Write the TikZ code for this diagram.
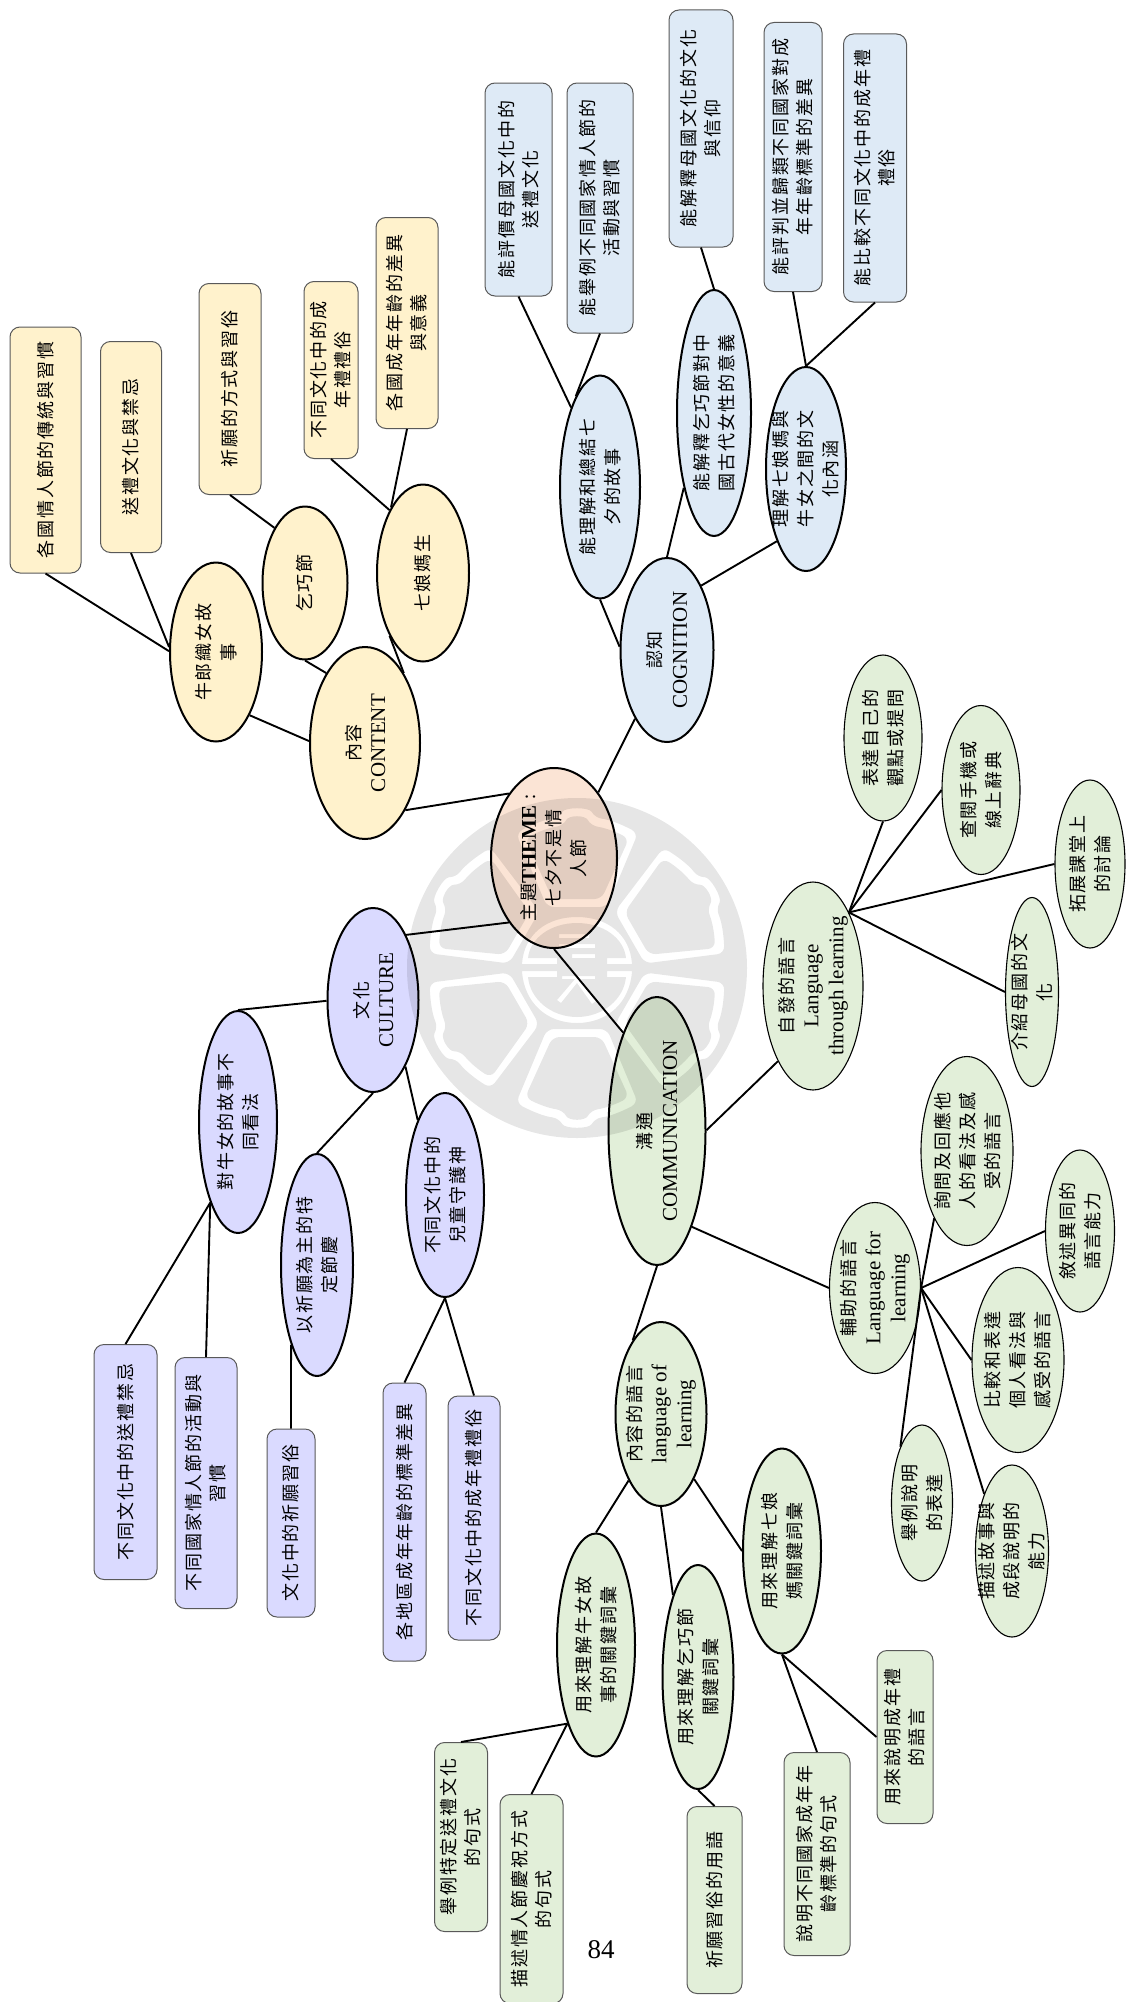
\documentclass[tikz,border=0pt]{standalone}
\usepackage{fontspec}
\setmainfont{Liberation Serif}
\newfontfamily\cjk[LetterSpace=11]{Noto Sans CJK TC}
\usetikzlibrary{shapes.geometric}
\definecolor{themefill}{HTML}{FBE4D5}
\definecolor{contentfill}{HTML}{FFF2CC}
\definecolor{cognitionfill}{HTML}{DEEAF6}
\definecolor{culturefill}{HTML}{DADAFF}
\definecolor{commfill}{HTML}{E2EFD9}

\begin{document}
\begin{tikzpicture}[x=1pt, y=-1pt,
    oval/.style={draw, ellipse, fill=#1, rotate=90, align=center, inner sep=-16pt, line width=2pt,
      font=\cjk\fontsize{18}{25}\selectfont},
    thinoval/.style={oval=#1, line width=1.1pt},
    leaf/.style={draw=black!65, rectangle, rounded corners=10pt, fill=#1, rotate=90, align=center,
      inner sep=0pt, line width=1pt, font=\cjk\fontsize{18}{24}\selectfont},
    link/.style={line width=1.9pt},
    markfill/.style={fill=black, fill opacity=0.098, even odd rule}]
  \useasboundingbox (0,0) rectangle (1125,2002);

  % Nodes
  \node[oval=themefill, minimum width=180pt, minimum height=126pt] (theme) at (554,858) {主題{\rmfamily\bfseries\fontsize{21}{25}\selectfont THEME} :\\七夕不是情\\人節};

  \node[oval=contentfill, minimum width=192pt, minimum height=110pt] (content) at (365,743) {內容\\{\rmfamily\fontsize{21}{26}\selectfont CONTENT}};
  \node[oval=contentfill, minimum width=179pt, minimum height=92pt] (niulang) at (216,652) {牛郎織女故\\事};
  \node[oval=contentfill, minimum width=153pt, minimum height=85pt] (qiqiao) at (305,583) {乞巧節};
  \node[oval=contentfill, minimum width=177pt, minimum height=92pt] (qiniang) at (423,573) {七娘媽生};
  \node[leaf=contentfill, minimum width=246pt, minimum height=71pt] (b1) at (45.5,450) {各國情人節的傳統與習慣};
  \node[leaf=contentfill, minimum width=211pt, minimum height=61pt] (b2) at (131,447) {送禮文化與禁忌};
  \node[leaf=contentfill, minimum width=211pt, minimum height=62pt] (b3) at (230,389) {祈願的方式與習俗};
  \node[leaf=contentfill, minimum width=177pt, minimum height=54pt] (b4) at (331,370) {不同文化中的成\\年禮禮俗};
  \node[leaf=contentfill, minimum width=211pt, minimum height=62pt] (b5) at (407,323) {各國成年年齡的差異\\與意義};

  \node[oval=cognitionfill, minimum width=184pt, minimum height=93pt] (cognition) at (667,650) {認知\\{\rmfamily\fontsize{21}{26}\selectfont COGNITION}};
  \node[oval=cognitionfill, minimum width=223pt, minimum height=80pt] (c1) at (600,487) {能理解和總結七\\夕的故事};
  \node[oval=cognitionfill, minimum width=246pt, minimum height=74pt] (c2) at (714,413) {能解釋乞巧節對中\\國古代女性的意義};
  \node[oval=cognitionfill, minimum width=204pt, minimum height=80pt] (c3) at (806,469) {理解七娘媽與\\牛女之間的文\\化內涵};
  \node[leaf=cognitionfill, minimum width=213pt, minimum height=67pt] (d1) at (518.5,189.5) {能評價母國文化中的\\送禮文化};
  \node[leaf=cognitionfill, minimum width=250pt, minimum height=66pt] (d2) at (600,208) {能舉例不同國家情人節的\\活動與習慣};
  \node[leaf=cognitionfill, minimum width=237pt, minimum height=64pt] (d3) at (701,128.5) {能解釋母國文化的文化\\與信仰};
  \node[leaf=cognitionfill, minimum width=269pt, minimum height=58pt] (d4) at (793,157) {能評判並歸類不同國家對成\\年年齡標準的差異};
  \node[leaf=cognitionfill, minimum width=268pt, minimum height=63pt] (d5) at (875,168) {能比較不同文化中的成年禮\\禮俗};

  \node[oval=culturefill, minimum width=184pt, minimum height=91pt] (culture) at (373,1000) {文化\\{\rmfamily\fontsize{21}{26}\selectfont CULTURE}};
  \node[oval=culturefill, minimum width=222pt, minimum height=78pt] (e1) at (238,1122) {對牛女的故事不\\同看法};
  \node[oval=culturefill, minimum width=222pt, minimum height=72pt] (e2) at (317,1265) {以祈願為主的特\\定節慶};
  \node[oval=culturefill, minimum width=204pt, minimum height=78pt] (e3) at (445,1195) {不同文化中的\\兒童守護神};
  \node[leaf=culturefill, minimum width=235pt, minimum height=63pt] (f1) at (125.5,1462) {不同文化中的送禮禁忌};
  \node[leaf=culturefill, minimum width=251pt, minimum height=62pt] (f2) at (206,1483) {不同國家情人節的活動與\\習慣};
  \node[leaf=culturefill, minimum width=188pt, minimum height=48pt] (f3) at (291,1523) {文化中的祈願習俗};
  \node[leaf=culturefill, minimum width=278pt, minimum height=43pt] (f4) at (404.5,1522) {各地區成年年齡的標準差異};
  \node[leaf=culturefill, minimum width=244pt, minimum height=52pt] (f5) at (474,1518) {不同文化中的成年禮禮俗};

  \node[oval=commfill, minimum width=268pt, minimum height=97pt] (comm) at (657,1131) {溝通\\{\rmfamily\fontsize{21}{26}\selectfont COMMUNICATION}};
  \node[oval=commfill, minimum width=184pt, minimum height=91pt] (lang) at (661,1414) {內容的語言\\{\rmfamily\fontsize{21}{26}\selectfont language of}\\{\rmfamily\fontsize{21}{26}\selectfont learning}};
  \node[oval=commfill, minimum width=223pt, minimum height=78pt] (g1) at (596,1645) {用來理解牛女故\\事的關鍵詞彙};
  \node[oval=commfill, minimum width=224pt, minimum height=71pt] (g2) at (698,1677) {用來理解乞巧節\\關鍵詞彙};
  \node[oval=commfill, minimum width=205pt, minimum height=78pt] (g3) at (782,1551) {用來理解七娘\\媽關鍵詞彙};
  \node[leaf=commfill, minimum width=189pt, minimum height=53pt] (h1) at (461,1837) {舉例特定送禮文化\\的句式};
  \node[leaf=commfill, minimum width=209pt, minimum height=63pt] (h2) at (531.5,1899) {描述情人節慶祝方式\\的句式};
  \node[leaf=commfill, minimum width=187pt, minimum height=55pt] (h3) at (714.5,1900) {祈願習俗的用語};
  \node[leaf=commfill, minimum width=203pt, minimum height=66pt] (h4) at (817,1854) {說明不同國家成年年\\齡標準的句式};
  \node[leaf=commfill, minimum width=173pt, minimum height=56pt] (h5) at (905,1737) {用來說明成年禮\\的語言};

  \node[thinoval=commfill, minimum width=208pt, minimum height=100pt] (through) at (813,986) {自發的語言\\{\rmfamily\fontsize{21}{26}\selectfont Language}\\{\rmfamily\fontsize{21}{26}\selectfont through learning}};
  \node[thinoval=commfill, minimum width=166pt, minimum height=78pt] (i1) at (883,738) {表達自己的\\觀點或提問};
  \node[thinoval=commfill, minimum width=169pt, minimum height=78pt] (i2) at (981,790) {查閱手機或\\線上辭典};
  \node[thinoval=commfill, minimum width=168pt, minimum height=70pt] (i3) at (1090,864) {拓展課堂上\\的討論};
  \node[thinoval=commfill, minimum width=189pt, minimum height=53pt] (i4) at (1032,992) {介紹母國的文\\化};

  \node[thinoval=commfill, minimum width=171pt, minimum height=91pt] (forlearn) at (875,1288) {輔助的語言\\{\rmfamily\fontsize{21}{26}\selectfont Language for}\\{\rmfamily\fontsize{21}{26}\selectfont learning}};
  \node[thinoval=commfill, minimum width=189pt, minimum height=92pt] (j1) at (967,1151) {詢問及回應他\\人的看法及感\\受的語言};
  \node[thinoval=commfill, minimum width=162pt, minimum height=69pt] (j2) at (1080,1231) {敘述異同的\\語言能力};
  \node[thinoval=commfill, minimum width=185pt, minimum height=92pt] (j3) at (1018,1360) {比較和表達\\個人看法與\\感受的語言};
  \node[thinoval=commfill, minimum width=156pt, minimum height=61pt] (j4) at (922,1503) {舉例說明\\的表達};
  \node[thinoval=commfill, minimum width=172pt, minimum height=73pt] (j5) at (1012,1551) {描述故事與\\成段說明的\\能力};

  \node[font=\fontsize{27}{30}\selectfont] (pagenum) at (601,1950) {84};

  % Links
  \draw[link] (theme.35) -- (content.211);
  \draw[link] (theme.-34.5) -- (cognition.155);
  \draw[link] (theme.145) -- (culture.-27);
  \draw[link] (theme.west) -- (comm.19.5);

  \draw[link] (content.88) -- (niulang.-152);
  \draw[link] (content.29) -- (qiqiao.west);
  \draw[link] (content.-29.5) -- (qiniang.152);
  \draw[link] (niulang.89) -- (b1.west);
  \draw[link] (niulang.84) -- (b2.west);
  \draw[link] (qiqiao.29.5) -- (b3.west);
  \draw[link] (qiniang.28) -- (b4.west);
  \draw[link] (qiniang.26) -- (b5.west);

  \draw[link] (cognition.86) -- (c1.west);
  \draw[link] (cognition.east) -- (c2.158);
  \draw[link] (cognition.-28) -- (c3.158);
  \draw[link] (c1.20) -- (d1.west);
  \draw[link] (c1.15.5) -- (d2.west);
  \draw[link] (c2.east) -- (d3.west);
  \draw[link] (c3.east) -- (d4.west);
  \draw[link] (c3.east) -- (d5.west);

  \draw[link] (culture.91) -- (e1.east);
  \draw[link] (culture.west) -- (e2.east);
  \draw[link] (culture.-154) -- (e3.20.5);
  \draw[link] (e1.161) -- (f1.east);
  \draw[link] (e1.161) -- (f2.east);
  \draw[link] (e2.162.4) -- (f3.east);
  \draw[link] (e3.west) -- (f4.east);
  \draw[link] (e3.west) -- (f5.east);

  \draw[link] (comm.west) -- (lang.21.5);
  \draw[link] (comm.-89) -- (through.155);
  \draw[link] (comm.-160.7) -- (forlearn.north);
  \draw[link] (lang.154.5) -- (g1.east);
  \draw[link] (lang.west) -- (g2.17);
  \draw[link] (lang.-153) -- (g3.north);
  \draw[link] (g1.160.5) -- (h1.east);
  \draw[link] (g1.160.5) -- (h2.east);
  \draw[link] (g2.west) -- (h3.east);
  \draw[link] (g3.west) -- (h4.east);
  \draw[link] (g3.west) -- (h5.north);

  \draw[link] (through.-26) -- (i1.west);
  \draw[link] (through.-26) -- (i2.north);
  \draw[link] (through.-26) -- (i3.north);
  \draw[link] (through.-26) -- (i4.north);

  \draw[link] (forlearn.south) -- (j1.154);
  \draw[link] (forlearn.south) -- (j2.north);
  \draw[link] (forlearn.south) -- (j3.north);
  \draw[link] (forlearn.south) -- (j4.21);
  \draw[link] (forlearn.south) -- (j5.26);

  % Watermark
  \begin{scope}[shift={(577,968)}]
    \fill[markfill] (0,0) circle[radius=170pt]
      foreach \a in {0,60,...,300} {[rotate=\a, rounded corners=7pt]
        (-30,61) -- (-61,135) .. controls (-38,147) and (-28,149) .. (-18,150)
          .. controls (-12,161) and (12,161) .. (18,150) .. controls (28,149) and (38,147) .. (61,135) -- (30,61) -- cycle
        (-24.5,69) -- (-52,129.5) .. controls (-33,139) and (-23,141) .. (-14,142)
          .. controls (-8,153) and (8,153) .. (14,142) .. controls (23,141) and (33,139) .. (52,129.5) -- (24.5,69) -- cycle}
      (-20,-4) -- (-55,-4) .. controls (-53,-34) and (-30,-51) .. (0,-51) .. controls (30,-51) and (53,-34) .. (55,-4) -- (30,-4)
        -- (30,-10) -- (49,-10) .. controls (47,-30) and (26,-45) .. (0,-45) .. controls (-26,-45) and (-47,-30) .. (-49,-10) -- (-20,-10) -- cycle
      (-20,3) -- (-55,3) .. controls (-53,35) and (-30,55) .. (0,55) .. controls (30,55) and (53,35) .. (55,3) -- (30,3)
        -- (30,9) -- (49,9) .. controls (47,31) and (26,49) .. (0,49) .. controls (-26,49) and (-47,31) .. (-49,9) -- (-20,9) -- cycle
      (-18,-34) rectangle (12,-30) (-18,-24) rectangle (18,-20) (-5,-14) rectangle (18,-10)
      (-15,11) -- (-2,11) -- (-20,32) -- (-16,35) -- (0,15) -- (15,36) -- (19,33) -- (4,11) -- (18,11) -- (18,8) -- (-15,8) -- cycle;
  \end{scope}
\end{tikzpicture}
\end{document}
